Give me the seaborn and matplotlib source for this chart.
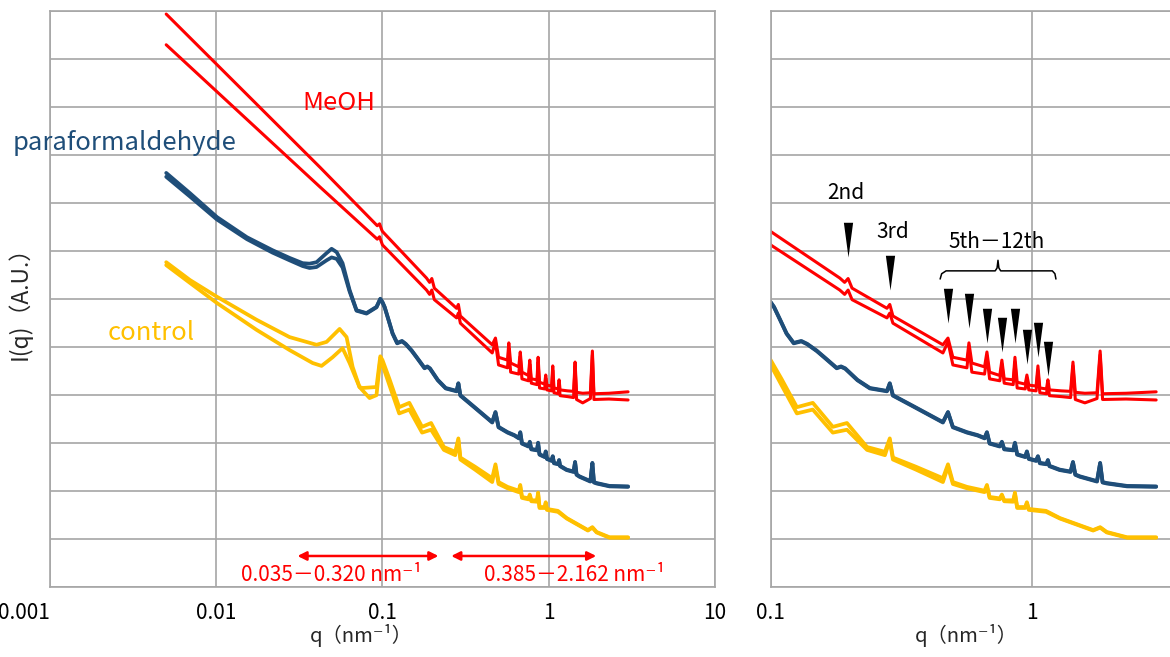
import numpy as np
import pandas as pd
import matplotlib
matplotlib.use("Agg")
import matplotlib.pyplot as plt
import seaborn as sns
from matplotlib.ticker import FixedLocator, FixedFormatter

# ---------------- data (q in nm^-1, y = log intensity, arbitrary units) ----------------
meoh_q = [0.005, 0.042, 0.093, 0.096, 0.099, 0.1, 0.184, 0.192, 0.198, 0.205, 0.279, 0.286,
          0.294, 0.457, 0.478, 0.499, 0.565, 0.575, 0.59, 0.66, 0.674, 0.69, 0.755, 0.769,
          0.785, 0.85, 0.863, 0.88, 0.945, 0.959, 0.975, 1.04, 1.057, 1.075, 1.14, 1.154,
          1.17, 1.3, 1.41, 1.44, 1.47, 1.6, 1.78, 1.83, 1.87, 2.3, 3.0]
meoh_a = [11.93, 8.74, 7.52, 7.56, 7.43, 7.40, 6.43, 6.34, 6.42, 6.22, 5.80, 5.88,
          5.64, 5.04, 5.18, 4.78, 4.72, 5.08, 4.66, 4.58, 4.89, 4.47, 4.40, 4.72,
          4.33, 4.31, 4.78, 4.26, 4.22, 4.41, 4.20, 4.18, 4.60, 4.14, 4.12, 4.31,
          4.10, 4.08, 4.07, 4.68, 4.05, 4.03, 4.04, 4.91, 4.02, 4.03, 4.06]
meoh_b = [11.29, 8.33, 7.24, 7.29, 7.16, 7.12, 6.18, 6.09, 6.18, 5.98, 5.60, 5.70,
          5.49, 4.87, 5.10, 4.62, 4.56, 4.97, 4.47, 4.43, 4.80, 4.33, 4.29, 4.64,
          4.24, 4.21, 4.68, 4.14, 4.12, 4.35, 4.10, 4.08, 4.51, 4.04, 4.02, 4.24,
          3.98, 3.96, 3.94, 4.60, 3.90, 3.83, 3.92, 4.83, 3.90, 3.91, 3.89]

pfa_q = [0.005, 0.00694, 0.0101, 0.0153, 0.0218, 0.0276, 0.0331, 0.0364, 0.0401, 0.0461,
         0.0494, 0.053, 0.0575, 0.0634, 0.0698, 0.0801, 0.092, 0.097, 0.1, 0.103, 0.109,
         0.115, 0.1225, 0.131, 0.138, 0.15, 0.16, 0.179, 0.186, 0.193, 0.215, 0.24, 0.279,
         0.286, 0.294, 0.35, 0.40, 0.457, 0.478, 0.499, 0.565, 0.62, 0.66, 0.674, 0.69,
         0.755, 0.769, 0.785, 0.85, 0.863, 0.88, 0.945, 0.959, 0.975, 1.04, 1.057, 1.075,
         1.14, 1.154, 1.17, 1.28, 1.41, 1.44, 1.47, 1.53, 1.78, 1.83, 1.87, 1.94, 2.32, 3.0]
pfa_a = [8.62, 8.20, 7.70, 7.28, 7.01, 6.85, 6.74, 6.73, 6.76, 6.95,
         7.04, 6.97, 6.74, 6.18, 5.76, 5.70, 5.83, 6.00, 5.93, 5.83, 5.55,
         5.28, 5.08, 5.12, 5.06, 4.92, 4.79, 4.56, 4.59, 4.55, 4.31, 4.14, 4.08,
         4.24, 3.99, 3.77, 3.60, 3.43, 3.64, 3.33, 3.22, 3.16, 3.10, 3.22, 2.99,
         2.93, 3.02, 2.87, 2.85, 3.00, 2.76, 2.71, 2.82, 2.67, 2.63, 2.72, 2.58,
         2.56, 2.64, 2.52, 2.44, 2.40, 2.60, 2.34, 2.30, 2.20, 2.58, 2.18, 2.16, 2.10, 2.09]
pfa_b = [8.54, 8.13, 7.65, 7.24, 6.96, 6.80, 6.68, 6.64, 6.66, 6.80,
         6.86, 6.83, 6.65, 6.15, 5.75, 5.69, 5.82, 5.99, 5.92, 5.82, 5.54,
         5.27, 5.07, 5.11, 5.05, 4.91, 4.78, 4.55, 4.58, 4.54, 4.30, 4.13, 4.07,
         4.23, 3.98, 3.76, 3.59, 3.42, 3.63, 3.32, 3.21, 3.15, 3.09, 3.21, 2.98,
         2.92, 3.01, 2.86, 2.84, 2.99, 2.75, 2.70, 2.81, 2.66, 2.62, 2.71, 2.57,
         2.55, 2.63, 2.51, 2.43, 2.39, 2.59, 2.33, 2.29, 2.19, 2.57, 2.17, 2.15, 2.09, 2.08]

ctrl_a_q = [0.005, 0.00694, 0.0101, 0.0175, 0.0276, 0.0401, 0.0461, 0.0552, 0.0608, 0.0661,
            0.0727, 0.0758, 0.092, 0.097, 0.1, 0.11, 0.126, 0.145, 0.173, 0.196, 0.234,
            0.274, 0.286, 0.294, 0.36, 0.457, 0.478, 0.499, 0.565, 0.66, 0.674, 0.69, 0.755,
            0.769, 0.785, 0.85, 0.863, 0.88, 0.945, 0.959, 0.975, 1.135, 1.283, 1.72, 1.83,
            1.94, 2.32, 3.0]
ctrl_a = [6.76, 6.39, 6.04, 5.56, 5.20, 5.04, 5.10, 5.37, 5.20, 4.58,
          4.16, 4.14, 4.16, 4.80, 4.72, 4.33, 3.74, 3.83, 3.33, 3.41, 2.91,
          2.81, 3.09, 2.69, 2.50, 2.26, 2.55, 2.18, 2.08, 2.00, 2.12, 1.87, 1.84,
          1.92, 1.80, 1.80, 1.96, 1.66, 1.66, 1.76, 1.62, 1.58, 1.43, 1.18, 1.24,
          1.14, 1.03, 1.03]
ctrl_b_q = [0.005, 0.00694, 0.0101, 0.0175, 0.0276, 0.038, 0.043, 0.0501, 0.0575, 0.0634,
            0.0727, 0.0836, 0.092, 0.097, 0.1, 0.11, 0.126, 0.145, 0.173, 0.196, 0.234,
            0.274, 0.286, 0.294, 0.36, 0.457, 0.478, 0.499, 0.565, 0.66, 0.674, 0.69, 0.755,
            0.769, 0.785, 0.85, 0.863, 0.88, 0.945, 0.959, 0.975, 1.135, 1.283, 1.72, 1.83,
            1.94, 2.32, 3.0]
ctrl_b = [6.70, 6.33, 5.91, 5.35, 4.93, 4.66, 4.60, 4.78, 4.97, 4.66,
          4.16, 3.93, 3.99, 4.74, 4.62, 4.20, 3.61, 3.69, 3.21, 3.27, 2.85,
          2.74, 3.05, 2.65, 2.44, 2.18, 2.50, 2.14, 2.05, 1.97, 2.08, 1.85, 1.82,
          1.90, 1.78, 1.77, 1.93, 1.64, 1.64, 1.74, 1.60, 1.56, 1.42, 1.17, 1.23,
          1.13, 1.02, 1.02]

left_ticks = [0.001, 0.01, 0.1, 1, 10]
left_ticklabels = ["0.001", "0.01", "0.1", "1", "10"]
right_ticks = [0.1, 1]
right_ticklabels = ["0.1", "1"]

# peak markers (tip positions) and their labels
tri_q = [0.198, 0.286, 0.478, 0.575, 0.674, 0.769, 0.863, 0.959, 1.057, 1.154]
tri_y = [6.87, 6.18, 5.49, 5.39, 5.08, 4.89, 5.08, 4.64, 4.79, 4.39]
order_labels = ["2nd", "3rd", "5th－12th"]
order_label_q = [0.194, 0.294, 0.736]
order_label_y = [8.20, 7.39, 7.18]
brace_q = [0.446, 0.452, 0.47, 0.725, 0.737, 0.743, 0.749, 0.761, 1.20, 1.228, 1.239]
brace_y = [6.41, 6.52, 6.58, 6.58, 6.64, 6.80, 6.64, 6.58, 6.58, 6.52, 6.41]

range_labels = ["0.035－0.320 nm⁻¹", "0.385－2.162 nm⁻¹"]
range_arrows = [(0.0308, 0.217), (0.259, 1.93)]
range_label_q = [0.0494, 1.42]

RED = "#FF0000"
BLUE = "#1F4E79"
YELLOW = "#FFC000"
GRID = "#A6A6A6"

sns.set_theme(style="white")
plt.rcParams['font.family'] = ['Noto Sans CJK JP', 'DejaVu Sans']

fig = plt.figure(figsize=(11.7, 6.57), dpi=100)
fig.patch.set_facecolor("white")
W, H = 1170.0, 657.0
ax1 = fig.add_axes([50 / W, 1 - 586.7 / H, 665 / W, 576 / H])
ax2 = fig.add_axes([770.7 / W, 1 - 586.7 / H, (W - 770.7) / W, 576 / H])

curves = [
    (ctrl_a_q, ctrl_a, YELLOW, 2.7),
    (ctrl_b_q, ctrl_b, YELLOW, 2.7),
    (pfa_q, pfa_a, BLUE, 2.7),
    (pfa_q, pfa_b, BLUE, 2.7),
    (meoh_q, meoh_a, RED, 2.2),
    (meoh_q, meoh_b, RED, 2.2),
]

for ax in (ax1, ax2):
    for q, y, c, lw in curves:
        sns.lineplot(x=q, y=y, ax=ax, color=c, linewidth=lw, estimator=None,
                     sort=False, solid_joinstyle="round", solid_capstyle="round")
    ax.set_xscale("log")
    ax.set_ylim(0, 12)
    ax.yaxis.set_major_locator(FixedLocator(list(range(13))))
    ax.set_yticklabels([])
    ax.grid(True, which="major", color=GRID, linewidth=1.2)
    ax.tick_params(axis="both", which="both", length=0)
    ax.tick_params(axis="x", pad=11, labelsize=15, labelcolor="black")
    for s in ax.spines.values():
        s.set_color(GRID)
        s.set_linewidth(1.2)
    ax.set_facecolor("white")

ax1.set_xlim(0.001, 10)
ax1.xaxis.set_major_locator(FixedLocator(left_ticks))
ax1.xaxis.set_major_formatter(FixedFormatter(left_ticklabels))
ax1.xaxis.set_minor_locator(FixedLocator([]))
ax2.set_xlim(0.1, 3.39)
ax2.xaxis.set_major_locator(FixedLocator(right_ticks))
ax2.xaxis.set_major_formatter(FixedFormatter(right_ticklabels))
ax2.xaxis.set_minor_locator(FixedLocator([]))
ax2.spines["right"].set_visible(False)

ax1.set_xlabel("q（nm⁻¹）", fontsize=14.5)
ax1.xaxis.set_label_coords(0.468, -0.064)
ax2.set_xlabel("q（nm⁻¹）", fontsize=14.5)
ax2.xaxis.set_label_coords(0.49, -0.064)
ax1.set_ylabel("I(q)（A.U.）", fontsize=16.5)
ax1.yaxis.set_label_coords(-0.027, 0.503)

fig.canvas.draw()
first = ax1.get_xticklabels()[0]
first.set_horizontalalignment("right")

# sample labels
ax1.text(0.0545, 10.08, "MeOH", color=RED, fontsize=18.5, ha="center", va="center")
ax1.text(0.00282, 9.24, "paraformaldehyde", color=BLUE, fontsize=18.5, ha="center",
         va="center", clip_on=False)
ax1.text(0.00404, 5.29, "control", color=YELLOW, fontsize=18.5, ha="center", va="center")

# red q-range arrows
for (qa, qb), lab, ql in zip(range_arrows, range_labels, range_label_q):
    ax1.annotate("", xy=(qa, 0.64), xytext=(qb, 0.64),
                 arrowprops=dict(arrowstyle="<|-|>", color=RED, lw=1.8,
                                 mutation_scale=13, shrinkA=0, shrinkB=0))
    ax1.text(ql, 0.24, lab, color=RED, fontsize=15, ha="center", va="center")

# peak order markers
tri_marker = [(-0.133, 1.0), (0.133, 1.0), (0.0, 0.0)]
ax2.plot(tri_q, tri_y, linestyle="none", marker=tri_marker, markersize=50,
         color="black", markeredgewidth=0)
for lab, ql, yl in zip(order_labels, order_label_q, order_label_y):
    ax2.text(ql, yl, lab, color="black", fontsize=15, ha="center", va="center")
ax2.plot(brace_q, brace_y, color="black", linewidth=1.1)

fig.savefig("out.png", dpi=100, facecolor="white")
